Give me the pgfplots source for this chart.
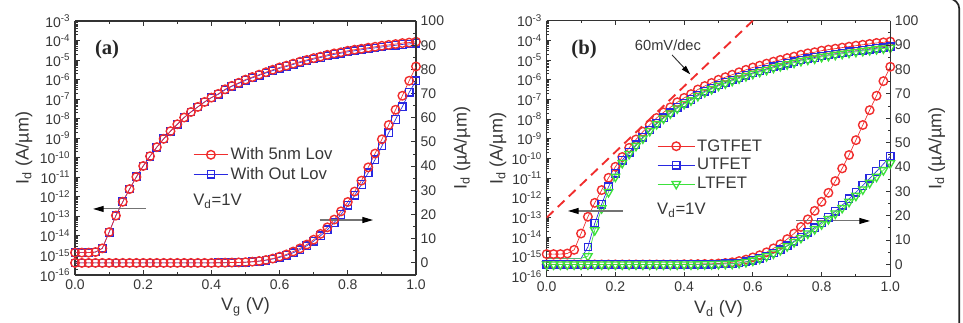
\documentclass[border=0pt]{standalone}
\usepackage{pgfplots}
\pgfplotsset{compat=1.18}
\usepackage{fontspec}
\setmainfont{Liberation Sans}
\newfontfamily\serifbf{Liberation Serif}
\usetikzlibrary{arrows.meta}
\definecolor{cred}{RGB}{240,45,45}
\definecolor{cblue}{RGB}{40,40,225}
\definecolor{cgreen}{RGB}{60,225,60}
\definecolor{txt}{RGB}{55,55,55}
\pgfplotsset{
  sred/.style={cred, line width=0.5pt, mark=o, mark size=3.2pt, mark options={solid, line width=1.05pt}},
  sblue/.style={cblue, line width=0.5pt, mark=square, mark size=2.8pt, mark options={solid, line width=1.0pt}},
  sgreen/.style={cgreen, line width=0.5pt, mark=triangle, mark size=3.7pt, mark options={solid, line width=1.0pt, rotate=180}},
  myBase/.style={scale only axis, anchor=south west, xmin=0, xmax=1,
    /pgf/number format/assume math mode=true,
    axis line style={black!80, line width=0.8pt},
    every tick/.style={black!80, line width=0.7pt},
    major tick length=3.5pt, minor tick length=2pt, tick align=inside,
    every tick label/.append style={font=\fontsize{10.5}{12}\selectfont, text=txt},
    label style={font=\fontsize{13.5}{16}\selectfont, text=txt},
  },
  myLog/.style={myBase, ymin=1e-16, ymax=1e-3, axis y line*=left,
    xtick={0,0.2,0.4,0.6,0.8,1.0}, minor x tick num=1,
    xticklabel style={/pgf/number format/fixed, /pgf/number format/fixed zerofill, /pgf/number format/precision=1},
    ytick={1e-16,1e-15,1e-14,1e-13,1e-12,1e-11,1e-10,1e-9,1e-8,1e-7,1e-6,1e-5,1e-4,1e-3},
    yticklabels={10\textsuperscript{-16},10\textsuperscript{-15},10\textsuperscript{-14},10\textsuperscript{-13},10\textsuperscript{-12},10\textsuperscript{-11},10\textsuperscript{-10},10\textsuperscript{-9},10\textsuperscript{-8},10\textsuperscript{-7},10\textsuperscript{-6},10\textsuperscript{-5},10\textsuperscript{-4},10\textsuperscript{-3}},
    ylabel={I\textsubscript{d} (A/µm)},
  },
  myLin/.style={myBase, ymin=-5, ymax=100, axis y line*=right, axis x line=none,
    ytick={0,10,...,100}, minor y tick num=1,
    ylabel={I\textsubscript{d} (µA/µm)},
    legend cell align=left,
    legend style={draw=none, fill=none, anchor=north west, font=\fontsize{12.5}{15}\selectfont, text=txt, inner sep=0pt, row sep=1pt, nodes={inner sep=1.5pt}},
  },
}
\begin{document}
\begin{tikzpicture}[x=1pt,y=1pt]
\useasboundingbox (0,0) rectangle (722.25,241.5);
\draw[black!85, line width=1.3pt, rounded corners=8pt] (-30,-30) rectangle (719.5,242.6);

% ================= panel (a), log axis
\begin{axis}[ymode=log, myLog, at={(56.25pt,35.25pt)}, width=255.75pt, height=190.5pt,
  xlabel={V\textsubscript{g} (V)},
  xlabel style={at={(axis description cs:0.5,-0.125)}, anchor=center},
  ylabel style={at={(axis description cs:-0.15,0.5)}, anchor=center}]
\addplot[sblue] coordinates {(0,1.4e-15)(0.02,1.4e-15)(0.04,1.4e-15)(0.06,1.5e-15)(0.08,2.3e-15)(0.10,1.55e-14)(0.12,1.1e-13)(0.14,5.6e-13)(0.16,2.5e-12)(0.18,1.05e-11)(0.20,3.8e-11)(0.22,1.2e-10)(0.24,3.5e-10)(0.26,9.3e-10)(0.28,2.3e-9)(0.30,5.2e-9)(0.32,1.15e-8)(0.34,2.2e-8)(0.36,4.0e-8)(0.38,7.2e-8)(0.40,1.2e-7)(0.42,1.75e-7)(0.44,3.0e-7)(0.46,4.5e-7)(0.48,6.4e-7)(0.50,9.2e-7)(0.52,1.24e-6)(0.54,1.65e-6)(0.56,2.2e-6)(0.58,2.9e-6)(0.60,3.8e-6)(0.62,4.7e-6)(0.64,6.0e-6)(0.66,7.5e-6)(0.68,9.2e-6)(0.70,1.13e-5)(0.72,1.35e-5)(0.74,1.65e-5)(0.76,1.95e-5)(0.78,2.25e-5)(0.80,2.65e-5)(0.82,3.0e-5)(0.84,3.35e-5)(0.86,3.8e-5)(0.88,4.2e-5)(0.90,4.7e-5)(0.92,5.2e-5)(0.94,5.7e-5)(0.96,6.3e-5)(0.98,6.7e-5)(1.00,7.3e-5)};
\addplot[sred] coordinates {(0,1.4e-15)(0.02,1.4e-15)(0.04,1.4e-15)(0.06,1.5e-15)(0.08,2.3e-15)(0.10,1.55e-14)(0.12,1.1e-13)(0.14,5.6e-13)(0.16,2.5e-12)(0.18,1.05e-11)(0.20,3.8e-11)(0.22,1.2e-10)(0.24,3.5e-10)(0.26,9.3e-10)(0.28,2.3e-9)(0.30,5.2e-9)(0.32,1.15e-8)(0.34,2.2e-8)(0.36,4.0e-8)(0.38,7.2e-8)(0.40,1.2e-7)(0.42,1.86e-7)(0.44,3.2e-7)(0.46,4.8e-7)(0.48,6.9e-7)(0.50,1.0e-6)(0.52,1.35e-6)(0.54,1.8e-6)(0.56,2.4e-6)(0.58,3.2e-6)(0.60,4.2e-6)(0.62,5.2e-6)(0.64,6.6e-6)(0.66,8.3e-6)(0.68,1.02e-5)(0.70,1.26e-5)(0.72,1.5e-5)(0.74,1.86e-5)(0.76,2.2e-5)(0.78,2.5e-5)(0.80,3.0e-5)(0.82,3.4e-5)(0.84,3.8e-5)(0.86,4.3e-5)(0.88,4.8e-5)(0.90,5.4e-5)(0.92,6.0e-5)(0.94,6.6e-5)(0.96,7.4e-5)(0.98,7.9e-5)(1.00,8.7e-5)};
\end{axis}

% ================= panel (a), linear axis
\begin{axis}[myLin, at={(56.25pt,35.25pt)}, width=255.75pt, height=190.5pt,
  ylabel style={at={(axis description cs:1.135,0.5)}, anchor=center},
  legend style={at={(axis description cs:0.346,0.51)}},
  legend image code/.code={\draw[mark repeat=2,mark phase=2,#1] plot coordinates {(0pt,0pt)(13pt,0pt)(26pt,0pt)};}]
\addplot[sblue, forget plot] coordinates {(0,0)(0.02,0)(0.04,0)(0.06,0)(0.08,0)(0.10,0)(0.12,0)(0.14,0)(0.16,0)(0.18,0)(0.20,0)(0.22,0)(0.24,0)(0.26,0)(0.28,0)(0.30,0)(0.32,0)(0.34,0)(0.36,0)(0.38,0)(0.40,0)(0.42,0.05)(0.44,0.08)(0.46,0.12)(0.48,0.2)(0.50,0.3)(0.52,0.45)(0.54,0.7)(0.56,1.1)(0.58,1.6)(0.60,2.3)(0.62,3.1)(0.64,4.2)(0.66,5.5)(0.68,7.1)(0.70,9.0)(0.72,11.2)(0.74,13.7)(0.76,16.7)(0.78,20.0)(0.80,23.8)(0.82,27.9)(0.84,32.4)(0.86,37.3)(0.88,42.7)(0.90,48.3)(0.92,53.8)(0.94,59.3)(0.96,64.6)(0.98,70.5)(1.00,75.3)};
\addplot[sred, forget plot] coordinates {(0,0)(0.02,0)(0.04,0)(0.06,0)(0.08,0)(0.10,0)(0.12,0)(0.14,0)(0.16,0)(0.18,0)(0.20,0)(0.22,0)(0.24,0)(0.26,0)(0.28,0)(0.30,0)(0.32,0)(0.34,0)(0.36,0)(0.38,0)(0.40,0)(0.42,0.05)(0.44,0.1)(0.46,0.15)(0.48,0.2)(0.50,0.3)(0.52,0.5)(0.54,0.8)(0.56,1.2)(0.58,1.8)(0.60,2.6)(0.62,3.5)(0.64,4.7)(0.66,6.0)(0.68,7.6)(0.70,9.6)(0.72,12.0)(0.74,14.7)(0.76,17.9)(0.78,21.3)(0.80,25.2)(0.82,29.5)(0.84,34.0)(0.86,39.5)(0.88,45.2)(0.90,51.1)(0.92,57.0)(0.94,63.3)(0.96,69.1)(0.98,75.3)(1.00,81.2)};
\addlegendimage{sred}\addlegendentry{With 5nm Lov}
\addlegendimage{sblue}\addlegendentry{With Out Lov}
\node[font=\serifbf\bfseries\fontsize{15.5}{18}\selectfont, text=black!85] at (axis description cs:0.094,0.886) {(a)};
\node[anchor=west, font=\fontsize{12.5}{15}\selectfont, text=txt, inner sep=0pt] at (axis description cs:0.346,0.29) {V\textsubscript{d}=1V};
\draw[black!55, line width=0.8pt, -{Triangle[color=black, length=8pt, width=4.5pt]}] (axis description cs:0.208,0.26) -- (axis description cs:0.053,0.26);
\draw[black!55, line width=0.8pt, -{Triangle[color=black, length=8pt, width=4.5pt]}] (axis description cs:0.718,0.2165) -- (axis description cs:0.874,0.2165);
\end{axis}

% ================= panel (b), log axis
\begin{axis}[ymode=log, myLog, at={(410pt,34pt)}, width=257.7pt, height=192pt,
  xlabel={V\textsubscript{d} (V)},
  xlabel style={at={(axis description cs:0.5,-0.125)}, anchor=center},
  ylabel style={at={(axis description cs:-0.142,0.5)}, anchor=center}]
\addplot[cred, line width=1.4pt, dash pattern=on 7pt off 4.5pt] coordinates {(0,1e-13)(0.6,1e-3)};
\addplot[sred] coordinates {(0,1.4e-15)(0.02,1.4e-15)(0.04,1.4e-15)(0.06,1.5e-15)(0.08,2.3e-15)(0.10,1.55e-14)(0.12,1.1e-13)(0.14,5.6e-13)(0.16,2.5e-12)(0.18,1.05e-11)(0.20,3.8e-11)(0.22,1.2e-10)(0.24,3.5e-10)(0.26,9.3e-10)(0.28,2.3e-9)(0.30,5.2e-9)(0.32,1.15e-8)(0.34,2.2e-8)(0.36,4.0e-8)(0.38,7.2e-8)(0.40,1.2e-7)(0.42,1.86e-7)(0.44,3.2e-7)(0.46,4.8e-7)(0.48,6.9e-7)(0.50,1.0e-6)(0.52,1.35e-6)(0.54,1.8e-6)(0.56,2.4e-6)(0.58,3.2e-6)(0.60,4.2e-6)(0.62,5.2e-6)(0.64,6.6e-6)(0.66,8.3e-6)(0.68,1.02e-5)(0.70,1.26e-5)(0.72,1.5e-5)(0.74,1.86e-5)(0.76,2.2e-5)(0.78,2.5e-5)(0.80,3.0e-5)(0.82,3.4e-5)(0.84,3.8e-5)(0.86,4.3e-5)(0.88,4.8e-5)(0.90,5.4e-5)(0.92,6.0e-5)(0.94,6.6e-5)(0.96,7.4e-5)(0.98,7.9e-5)(1.00,8.7e-5)};
\addplot[sblue, mark indices={7,...,51}] coordinates {(0,8.5e-16)(0.02,8.5e-16)(0.04,8.5e-16)(0.06,8.5e-16)(0.08,8.5e-16)(0.10,8.5e-16)(0.12,3.2e-15)(0.14,5.1e-14)(0.16,4.8e-13)(0.18,3.7e-12)(0.20,1.8e-11)(0.22,8.3e-11)(0.24,2.1e-10)(0.26,5.0e-10)(0.28,1.2e-9)(0.30,2.8e-9)(0.32,6.2e-9)(0.34,1.2e-8)(0.36,2.15e-8)(0.38,3.9e-8)(0.40,6.5e-8)(0.42,1.0e-7)(0.44,1.7e-7)(0.46,2.6e-7)(0.48,3.7e-7)(0.50,5.4e-7)(0.52,7.2e-7)(0.54,9.8e-7)(0.56,1.3e-6)(0.58,1.7e-6)(0.60,2.2e-6)(0.62,2.8e-6)(0.64,3.5e-6)(0.66,4.5e-6)(0.68,5.5e-6)(0.70,6.8e-6)(0.72,8.1e-6)(0.74,1.0e-5)(0.76,1.17e-5)(0.78,1.35e-5)(0.80,1.6e-5)(0.82,1.8e-5)(0.84,2.05e-5)(0.86,2.3e-5)(0.88,2.6e-5)(0.90,2.9e-5)(0.92,3.2e-5)(0.94,3.55e-5)(0.96,4.0e-5)(0.98,4.3e-5)(1.00,4.7e-5)};
\addplot[sgreen, mark indices={7,...,51}] coordinates {(0,8.5e-16)(0.02,8.5e-16)(0.04,8.5e-16)(0.06,8.5e-16)(0.08,8.5e-16)(0.10,8.5e-16)(0.12,1.1e-15)(0.14,2.3e-14)(0.16,3.0e-13)(0.18,2.0e-12)(0.20,1.2e-11)(0.22,6.0e-11)(0.24,1.7e-10)(0.26,4.4e-10)(0.28,1.05e-9)(0.30,2.5e-9)(0.32,5.6e-9)(0.34,1.08e-8)(0.36,1.95e-8)(0.38,3.5e-8)(0.40,5.9e-8)(0.42,9.0e-8)(0.44,1.5e-7)(0.46,2.35e-7)(0.48,3.35e-7)(0.50,4.9e-7)(0.52,6.5e-7)(0.54,8.8e-7)(0.56,1.17e-6)(0.58,1.53e-6)(0.60,2.0e-6)(0.62,2.5e-6)(0.64,3.15e-6)(0.66,4.05e-6)(0.68,4.95e-6)(0.70,6.1e-6)(0.72,7.3e-6)(0.74,9.0e-6)(0.76,1.05e-5)(0.78,1.2e-5)(0.80,1.45e-5)(0.82,1.62e-5)(0.84,1.85e-5)(0.86,2.07e-5)(0.88,2.35e-5)(0.90,2.6e-5)(0.92,2.9e-5)(0.94,3.2e-5)(0.96,3.6e-5)(0.98,3.9e-5)(1.00,4.2e-5)};
\end{axis}

% ================= panel (b), linear axis
\begin{axis}[myLin, at={(410pt,34pt)}, width=257.7pt, height=192pt,
  ylabel style={at={(axis description cs:1.135,0.5)}, anchor=center},
  legend style={at={(axis description cs:0.321,0.545)}},
  legend image code/.code={\draw[mark repeat=2,mark phase=2,#1] plot coordinates {(0pt,0pt)(14pt,0pt)(28pt,0pt)};}]
\addplot[sred] coordinates {(0,0)(0.02,0)(0.04,0)(0.06,0)(0.08,0)(0.10,0)(0.12,0)(0.14,0)(0.16,0)(0.18,0)(0.20,0)(0.22,0)(0.24,0)(0.26,0)(0.28,0)(0.30,0)(0.32,0)(0.34,0)(0.36,0)(0.38,0)(0.40,0.1)(0.42,0.12)(0.44,0.15)(0.46,0.2)(0.48,0.25)(0.50,0.4)(0.52,0.6)(0.54,0.9)(0.56,1.4)(0.58,2.0)(0.60,2.9)(0.62,3.8)(0.64,5.0)(0.66,6.6)(0.68,8.3)(0.70,10.4)(0.72,12.7)(0.74,15.4)(0.76,18.5)(0.78,22.0)(0.80,25.7)(0.82,29.4)(0.84,34.2)(0.86,39.4)(0.88,44.9)(0.90,51.0)(0.92,57.2)(0.94,63.3)(0.96,69.2)(0.98,75.2)(1.00,81.1)};
\addlegendentry{TGTFET}
\addplot[sblue] coordinates {(0,0)(0.02,0)(0.04,0)(0.06,0)(0.08,0)(0.10,0)(0.12,0)(0.14,0)(0.16,0)(0.18,0)(0.20,0)(0.22,0)(0.24,0)(0.26,0)(0.28,0)(0.30,0)(0.32,0)(0.34,0)(0.36,0)(0.38,0)(0.40,0)(0.42,0)(0.44,0.05)(0.46,0.08)(0.48,0.12)(0.50,0.18)(0.52,0.25)(0.54,0.3)(0.56,0.6)(0.58,1.1)(0.60,1.7)(0.62,2.5)(0.64,3.5)(0.66,4.7)(0.68,6.1)(0.70,7.7)(0.72,9.5)(0.74,11.3)(0.76,13.2)(0.78,15.1)(0.80,17.2)(0.82,19.4)(0.84,21.8)(0.86,24.3)(0.88,26.9)(0.90,29.6)(0.92,32.4)(0.94,35.3)(0.96,38.2)(0.98,41.2)(1.00,44.4)};
\addlegendentry{UTFET}
\addplot[sgreen] coordinates {(0,0)(0.02,0)(0.04,0)(0.06,0)(0.08,0)(0.10,0)(0.12,0)(0.14,0)(0.16,0)(0.18,0)(0.20,0)(0.22,0)(0.24,0)(0.26,0)(0.28,0)(0.30,0)(0.32,0)(0.34,0)(0.36,0)(0.38,0)(0.40,0)(0.42,0)(0.44,0.05)(0.46,0.08)(0.48,0.12)(0.50,0.18)(0.52,0.25)(0.54,0.3)(0.56,0.6)(0.58,1.0)(0.60,1.6)(0.62,2.4)(0.64,3.4)(0.66,4.5)(0.68,5.9)(0.70,7.5)(0.72,9.2)(0.74,10.9)(0.76,12.7)(0.78,14.5)(0.80,16.5)(0.82,18.6)(0.84,20.9)(0.86,23.2)(0.88,25.7)(0.90,28.2)(0.92,30.8)(0.94,33.5)(0.96,36.0)(0.98,38.7)(1.00,41.5)};
\addlegendentry{LTFET}
\node[font=\serifbf\bfseries\fontsize{15.5}{18}\selectfont, text=black!85] at (axis description cs:0.109,0.886) {(b)};
\node[font=\fontsize{11}{13}\selectfont, text=txt] at (axis description cs:0.353,0.905) {60mV/dec};
\draw[black!80, line width=0.7pt, -{Triangle[color=black, length=7pt, width=4pt]}] (axis description cs:0.365,0.866) -- (axis description cs:0.418,0.79);
\node[anchor=west, font=\fontsize{12.5}{15}\selectfont, text=txt, inner sep=0pt] at (axis description cs:0.321,0.26) {V\textsubscript{d}=1V};
\draw[black!55, line width=0.8pt, -{Triangle[color=black, length=8pt, width=4.5pt]}] (axis description cs:0.222,0.2566) -- (axis description cs:0.062,0.2566);
\draw[black!55, line width=0.8pt, -{Triangle[color=black, length=8pt, width=4.5pt]}] (axis description cs:0.725,0.2176) -- (axis description cs:0.941,0.2176);
\end{axis}
\end{tikzpicture}
\end{document}
